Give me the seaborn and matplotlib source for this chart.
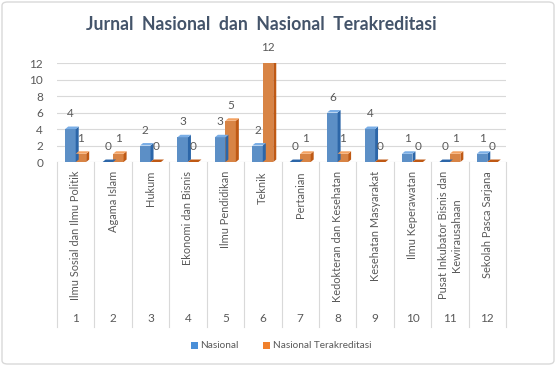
import matplotlib
matplotlib.use("Agg")
import matplotlib.pyplot as plt
import matplotlib.transforms as mtransforms
from matplotlib.patches import Polygon, Rectangle, FancyBboxPatch
import seaborn as sns
import pandas as pd

categories = ["Ilmu Sosial dan Ilmu Politik", "Agama Islam", "Hukum", "Ekonomi dan Bisnis",
              "Ilmu Pendidikan", "Teknik", "Pertanian", "Kedokteran dan Kesehatan",
              "Kesehatan Masyarakat", "Ilmu Keperawatan",
              "Pusat Inkubator Bisnis dan\nKewirausahaan", "Sekolah Pasca Sarjana"]
numbers = ["1", "2", "3", "4", "5", "6", "7", "8", "9", "10", "11", "12"]
nasional = [4, 0, 2, 3, 3, 2, 0, 6, 4, 1, 0, 1]
terakreditasi = [1, 1, 0, 0, 5, 12, 1, 1, 0, 0, 1, 0]
series = ["Nasional", "Nasional Terakreditasi"]
yticks = [0, 2, 4, 6, 8, 10, 12]

front = {"Nasional": "#4A8FD8", "Nasional Terakreditasi": "#F0802C"}
side = {"Nasional": "#2C66A8", "Nasional Terakreditasi": "#BF5914"}
top = {"Nasional": "#7AAEE6", "Nasional Terakreditasi": "#F4A262"}
txt = "#595959"

df = pd.DataFrame({
    "cat": numbers * 2,
    "val": nasional + terakreditasi,
    "series": [series[0]] * 12 + [series[1]] * 12,
})

plt.rcParams["font.family"] = ["Lato", "DejaVu Sans"]
fig = plt.figure(figsize=(5.56, 3.66), dpi=100)
fig.patch.set_facecolor("white")
W, H = 556, 366
ax = fig.add_axes([57 / W, 1 - 162 / H, (506 - 57) / W, (162 - 63) / H])

sns.barplot(data=df, x="cat", y="val", hue="series", order=numbers, hue_order=series,
            palette=front, width=0.56, ax=ax, legend=False, zorder=3, linewidth=0)

ax.set_ylim(0, 12)
ax.set_xlim(-0.5, 11.5)
ax.set_yticks(yticks)
ax.set_yticklabels([str(t) for t in yticks], color=txt, fontsize=8.5)
ax.tick_params(axis="y", length=0, pad=10)
ax.tick_params(axis="x", length=0, labelbottom=False)
ax.set_xlabel("")
ax.set_ylabel("")
for s in ax.spines.values():
    s.set_visible(False)
ax.grid(axis="y", color="#D9D9D9", linewidth=0.8, zorder=0)
ax.set_axisbelow(True)

# pseudo-3D depth on bars, derived from bar geometry
dx, dy = 0.08, 0.3
patches = list(ax.patches)
vals = nasional + terakreditasi
for i, p in enumerate(patches[:24]):
    s = series[0] if i < 12 else series[1]
    x0, w, h = p.get_x(), p.get_width(), p.get_height()
    ax.add_patch(Polygon([(x0 + w, 0), (x0 + w + dx, dy), (x0 + w + dx, h + dy), (x0 + w, h)],
                         closed=True, facecolor=side[s], edgecolor="none", zorder=3))
    ax.add_patch(Polygon([(x0, h), (x0 + dx, h + dy), (x0 + w + dx, h + dy), (x0 + w, h)],
                         closed=True, facecolor=side[s] if h == 0 else top[s],
                         edgecolor="none", zorder=3))
    ax.text(x0 + w / 2, h + 1.2, str(vals[i]), ha="center", va="bottom",
            fontsize=8.5, color=txt, zorder=5)

# category label table below the axes
trans = mtransforms.blended_transform_factory(ax.transData, fig.transFigure)
for k in range(13):
    ax.add_line(plt.Line2D([k - 0.5, k - 0.5], [1 - 162 / H, 1 - 327 / H], transform=trans,
                           color="#D9D9D9", linewidth=0.8, clip_on=False))
for k, (c, n) in enumerate(zip(categories, numbers)):
    ax.text(k, 1 - 171 / H, c, rotation=90, ha="center", va="top", transform=trans,
            fontsize=7.9, color=txt, multialignment="center", linespacing=1.3)
    ax.text(k, 1 - 318 / H, n, ha="center", va="center", transform=trans,
            fontsize=8.5, color=txt)

fig.text(261 / W, 1 - 25 / H, "Jurnal  Nasional  dan  Nasional  Terakreditasi", ha="center",
         va="center", fontsize=12.7, fontweight="bold", color="#44546A")

handles = [Rectangle((0, 0), 1, 1, facecolor=front[s]) for s in series]
fig.legend(handles, series, loc="center", bbox_to_anchor=(281 / W, 1 - 346 / H), ncol=2,
           frameon=False, fontsize=7.2, labelcolor=txt, handlelength=0.7, handleheight=0.7,
           handletextpad=0.3, columnspacing=2.4)

fig.patches.append(FancyBboxPatch((2 / W, 2 / H), 1 - 4 / W, 1 - 4 / H,
                                  boxstyle="round,pad=0,rounding_size=0.01",
                                  transform=fig.transFigure, facecolor="none",
                                  edgecolor="#D9D9D9", linewidth=1))

fig.savefig("out.png", dpi=100)
